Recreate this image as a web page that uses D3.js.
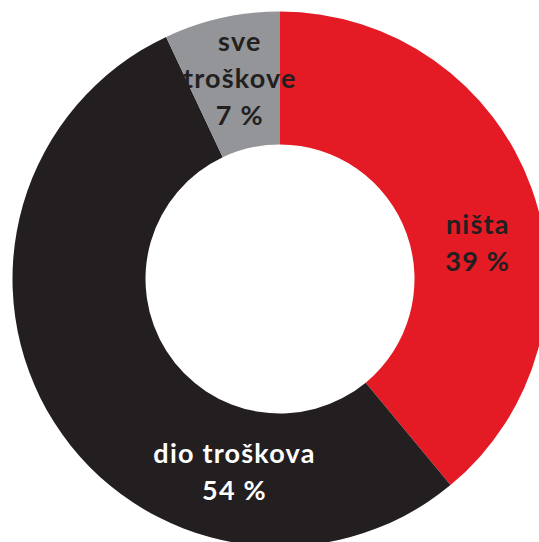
<!DOCTYPE html>
<html>
<head>
<meta charset="utf-8">
<script src="https://cdn.jsdelivr.net/npm/d3@7/dist/d3.min.js"></script>
<style>
  html, body { margin: 0; padding: 0; background: #ffffff; }
  svg { display: block; }
  text { font-family: Lato, "Open Sans", sans-serif; font-weight: 700; }
</style>
</head>
<body>
<script>
// Share of costs covered
const categories = ["ništa", "dio troškova", "sve troškove"];
const values = [39, 54, 7];
const labelLines = [["ništa"], ["dio troškova"], ["sve", "troškove"]];
const colors = ["#e41b24", "#231f20", "#939598"];
const textColors = ["#231f20", "#ffffff", "#231f20"];

const width = 539, height = 542;
const cx = 280, cy = 279;
const outerR = 267.5, innerR = 134.5;

// Label anchors: angle (degrees clockwise from top) and distance from centre
const labelPlacement = [
  { angle: 79.7, r: 201 },
  { angle: 193.3, r: 198 },
  { angle: -11.3, r: 205 }
];

const svg = d3.select("body").append("svg")
  .attr("width", width)
  .attr("height", height);

const g = svg.append("g").attr("transform", `translate(${cx},${cy})`);

const pie = d3.pie().sort(null).value(d => d)(values);
const arc = d3.arc().innerRadius(innerR).outerRadius(outerR);

g.selectAll("path.slice")
  .data(pie)
  .join("path")
  .attr("class", "slice")
  .attr("d", arc)
  .attr("fill", (d, i) => colors[i]);

const fontSize = 27, lineH = 37;

pie.forEach((d, i) => {
  const p = labelPlacement[i];
  const a = p.angle * Math.PI / 180;
  const x = Math.sin(a) * p.r;
  const y = -Math.cos(a) * p.r;
  const lines = labelLines[i].concat([`${values[i]} %`]);
  const t = g.append("text")
    .attr("text-anchor", "middle")
    .attr("fill", textColors[i])
    .attr("font-size", fontSize)
    .attr("letter-spacing", 1.2);
  const y0 = y - (lines.length - 1) * lineH / 2;
  lines.forEach((line, k) => {
    t.append("tspan")
      .attr("x", x)
      .attr("y", y0 + k * lineH)
      .attr("dy", "0.36em")
      .text(line);
  });
});
</script>
</body>
</html>
